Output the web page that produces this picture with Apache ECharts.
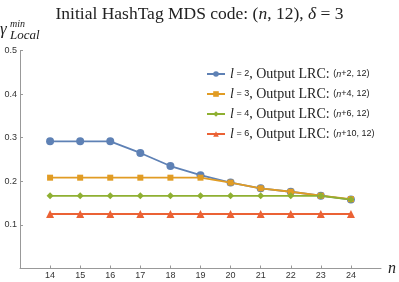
<!DOCTYPE html>
<html><head><meta charset="utf-8">
<script src="https://cdn.jsdelivr.net/npm/echarts@6/dist/echarts.min.js"></script>
<style>html,body{margin:0;padding:0;background:#fff}#c{width:399px;height:282px}</style>
</head><body><div id="c"></div>
<script>
const nValues = [14,15,16,17,18,19,20,21,22,23,24];
const l2 = [0.2917,0.2917,0.2917,0.265,0.235,0.214,0.197,0.184,0.176,0.167,0.158];
const l3 = [0.2083,0.2083,0.2083,0.2083,0.2083,0.2083,0.197,0.184,0.176,0.167,0.159];
const l4 = [0.1667,0.1667,0.1667,0.1667,0.1667,0.1667,0.1667,0.1667,0.1667,0.1667,0.158];
const l6 = [0.125,0.125,0.125,0.125,0.125,0.125,0.125,0.125,0.125,0.125,0.125];
const seriesNames = ['l2','l3','l4','l6'];
const legendParts = {l2:['2','2'], l3:['3','4'], l4:['4','6'], l6:['6','10']};
const xTicks = [14,15,16,17,18,19,20,21,22,23,24];
const yTicks = [0.1,0.2,0.3,0.4,0.5];

const colors = ['#5E81B5','#E19C24','#8FB032','#EB6235'];
const symbols = ['circle','rect','diamond','triangle'];
const sizes = [8,6,7,8];
const data = [l2,l3,l4,l6];
const serif = '"Liberation Serif","Times New Roman",serif';
const sans = '"Liberation Sans",Arial,sans-serif';

const chart = echarts.init(document.getElementById('c'), null, {renderer:'canvas'});
chart.setOption({
  animation:false,
  title:{
    text:'{t|Initial HashTag MDS code: (}{i|n}{t|, 12), }{i|δ}{t| = 3}',
    left:'center', top:0,
    textStyle:{fontWeight:'normal',rich:{
      t:{fontFamily:serif,fontSize:17.5,fontWeight:'normal',color:'#222'},
      i:{fontFamily:serif,fontSize:17.5,fontWeight:'normal',fontStyle:'italic',color:'#222'}
    }}
  },
  graphic:[
    {type:'text',left:0,top:21,style:{text:'γ',font:'italic 17px '+serif,fill:'#222'}},
    {type:'text',left:10,top:19,style:{text:'min',font:'italic 10px '+serif,fill:'#222'}},
    {type:'text',left:10,top:29,style:{text:'Local',font:'italic 13px '+serif,fill:'#222'}}
  ],
  legend:{
    orient:'vertical', left:201, top:62, itemWidth:18, itemHeight:7, itemGap:6,
    data:seriesNames,
    formatter:function(name){
      const p = legendParts[name];
      return '{i|l}{s| = '+p[0]+'}{t|, Output LRC: }{s|(}{si|n}{s|+'+p[1]+', 12)}';
    },
    textStyle:{padding:[0,0,0,0],rich:{
      i:{fontFamily:serif,fontSize:14,fontStyle:'italic',color:'#222',lineHeight:15},
      t:{fontFamily:serif,fontSize:14,color:'#222',lineHeight:15},
      s:{fontFamily:sans,fontSize:9,color:'#222',lineHeight:15},
      si:{fontFamily:sans,fontSize:9,fontStyle:'italic',color:'#222',lineHeight:15}
    }}
  },
  grid:{left:20,right:16.5,top:50.5,bottom:13.5,containLabel:false},
  xAxis:{
    type:'value', min:13, max:25, interval:1,
    name:'n', nameLocation:'end', nameGap:7,
    nameTextStyle:{fontFamily:serif,fontSize:16,fontStyle:'italic',color:'#222',verticalAlign:'middle'},
    axisLine:{lineStyle:{color:'#999',width:1}},
    axisTick:{inside:true,length:3,lineStyle:{color:'#999'},customValues:xTicks},
    axisLabel:{fontFamily:sans,fontSize:9,color:'#333',margin:3,customValues:xTicks,
      formatter:v=> xTicks.indexOf(v)>=0 ? String(v) : ''},
    splitLine:{show:false}
  },
  yAxis:{
    type:'value', min:0, max:0.5, interval:0.1,
    axisLine:{show:true,lineStyle:{color:'#999',width:1}},
    axisTick:{show:true,inside:true,length:3,lineStyle:{color:'#999'},customValues:yTicks},
    axisLabel:{fontFamily:sans,fontSize:9,color:'#333',margin:3,customValues:yTicks,
      formatter:v=> v===0 ? '' : v.toFixed(1)},
    splitLine:{show:false}
  },
  series: seriesNames.map((nm,k)=>({
    name:nm, type:'line',
    data:nValues.map((x,i)=>[x,data[k][i]]),
    symbol:symbols[k], symbolSize:sizes[k], showSymbol:true,
    lineStyle:{color:colors[k],width:1.8},
    itemStyle:{color:colors[k]},
    z:2+k
  }))
});
</script></body></html>
